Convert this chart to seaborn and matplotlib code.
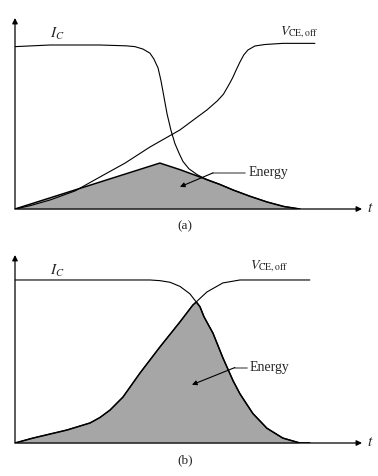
import numpy as np
import pandas as pd
import matplotlib.pyplot as plt
import seaborn as sns

# curves (t in arbitrary time units, level normalised to 1)
ic_a_t = [0, 1.17, 2.83, 3.7, 4.0, 4.27, 4.5, 4.63, 4.77, 4.87, 4.97, 5.07, 5.2, 5.33,
          5.47, 5.6, 5.8, 6.07, 6.4, 6.83, 7.27, 7.83, 8.4, 8.97, 9.5]
ic_a_v = [0.99, 1.0, 1.0, 0.995, 0.99, 0.975, 0.95, 0.915, 0.86, 0.78, 0.68, 0.58, 0.48, 0.40,
          0.34, 0.29, 0.245, 0.21, 0.178, 0.15, 0.116, 0.078, 0.043, 0.015, 0.0]
vce_a_t = [0, 0.5, 1.17, 2.0, 2.83, 3.67, 4.5, 5.5, 6.0, 6.4, 6.75, 6.95, 7.07, 7.17, 7.27,
           7.38, 7.5, 7.63, 7.77, 8.0, 8.33, 8.93, 10.0]
vce_a_v = [0.0, 0.02, 0.055, 0.11, 0.195, 0.28, 0.378, 0.482, 0.55, 0.604, 0.66, 0.70, 0.738,
           0.77, 0.805, 0.85, 0.896, 0.94, 0.97, 0.994, 1.003, 1.01, 1.01]
en_a_t = [0, 4.83, 5.5, 6.17, 6.83, 7.27, 7.83, 8.4, 8.97, 9.5]
en_a_v = [0.0, 0.28, 0.24, 0.195, 0.15, 0.116, 0.078, 0.043, 0.015, 0.0]

ic_b_t = [0, 4.5, 4.83, 5.17, 5.5, 5.83, 6.17, 6.3, 6.6, 6.93, 7.27, 7.5, 7.93, 8.4, 8.93, 9.5, 9.83]
ic_b_v = [0.994, 0.994, 0.99, 0.98, 0.955, 0.91, 0.83, 0.77, 0.67, 0.52, 0.38, 0.30, 0.18, 0.09,
          0.03, 0.0, 0.0]
vce_b_t = [0, 0.6, 1.73, 2.5, 2.83, 3.17, 3.6, 4.17, 4.83, 5.5, 5.93, 6.4, 6.93, 7.5, 9.83]
vce_b_v = [0.0, 0.03, 0.079, 0.122, 0.155, 0.201, 0.28, 0.427, 0.585, 0.738, 0.841, 0.921,
           0.976, 0.994, 0.994]
en_b_t = [0, 0.6, 1.73, 2.5, 2.83, 3.17, 3.6, 4.17, 4.83, 5.5, 5.93, 6.05, 6.17, 6.3, 6.6,
          6.93, 7.27, 7.5, 7.93, 8.4, 8.93, 9.5, 9.83]
en_b_v = [0.0, 0.03, 0.079, 0.122, 0.155, 0.201, 0.28, 0.427, 0.585, 0.738, 0.841, 0.86, 0.83,
          0.77, 0.67, 0.52, 0.38, 0.30, 0.18, 0.09, 0.03, 0.0, 0.0]

sns.set_style('white')
plt.rcParams['font.family'] = ['Liberation Serif', 'DejaVu Serif']
plt.rcParams['mathtext.fontset'] = 'stix'

fig = plt.figure(figsize=(3.78, 4.76), dpi=100)
ax_a = fig.add_axes([15 / 378, 1 - 209 / 476, 347 / 378, 191 / 476])
ax_b = fig.add_axes([15 / 378, 1 - 443 / 476, 347 / 378, 188 / 476])

fill_col = '#a6a6a6'


def panel(ax, ic_t, ic_v, vce_t, vce_v, en_t, en_v, ytop):
    ax.fill_between(en_t, en_v, 0, color=fill_col, lw=0)
    sns.lineplot(x=en_t, y=en_v, ax=ax, color='k', lw=1.1, sort=False, estimator=None)
    sns.lineplot(x=ic_t, y=ic_v, ax=ax, color='k', lw=0.8, sort=False, estimator=None)
    sns.lineplot(x=vce_t, y=vce_v, ax=ax, color='k', lw=0.8, sort=False, estimator=None)
    ax.set_xlim(0, 11.57)
    ax.set_ylim(0, ytop)
    for s in ax.spines.values():
        s.set_visible(False)
    ax.set_xticks([])
    ax.set_yticks([])
    ax.set_xlabel('')
    ax.set_ylabel('')
    ap = dict(arrowstyle='-|>', lw=0.9, color='k', mutation_scale=8,
              shrinkA=0, shrinkB=0)
    ax.annotate('', xy=(1, 0), xytext=(0, 0), xycoords='axes fraction', arrowprops=ap)
    ax.annotate('', xy=(0, 1), xytext=(0, 0), xycoords='axes fraction', arrowprops=ap)
    ax.text(11.85, 0, '$t$', fontsize=11, va='center', ha='center', clip_on=False)


panel(ax_a, ic_a_t, ic_a_v, vce_a_t, vce_a_v, en_a_t, en_a_v, 191 / 164)
panel(ax_b, ic_b_t, ic_b_v, vce_b_t, vce_b_v, en_b_t, en_b_v, 188 / 164)

arrow_kw = dict(arrowstyle='-|>', lw=0.8, color='k', mutation_scale=7, shrinkA=0, shrinkB=0)

# labels panel (a)
ax_a.text(1.17, 1.07, '$I_C$', fontsize=11, va='center')
ax_a.text(8.83, 1.08, r'$V_{\mathrm{CE,off}}$', fontsize=10, va='center')
ax_a.text(7.77, 0.22, 'Energy', fontsize=10, va='center')
ax_a.plot([7.67, 6.6], [0.22, 0.22], color='#808080', lw=1.2)
ax_a.annotate('', xy=(5.5, 0.135), xytext=(6.6, 0.22), arrowprops=arrow_kw)
fig.text(185 / 378, 1 - 226 / 476, '(a)', fontsize=9.5, ha='center', va='center')

# labels panel (b)
ax_b.text(1.17, 1.05, '$I_C$', fontsize=11, va='center')
ax_b.text(7.83, 1.08, r'$V_{\mathrm{CE,off}}$', fontsize=10, va='center')
ax_b.text(7.83, 0.46, 'Energy', fontsize=10, va='center')
ax_b.plot([7.73, 7.33], [0.46, 0.46], color='#808080', lw=1.2)
ax_b.annotate('', xy=(5.9, 0.355), xytext=(7.33, 0.46), arrowprops=arrow_kw)
fig.text(185 / 378, 1 - 460 / 476, '(b)', fontsize=9.5, ha='center', va='center')

fig.savefig('out.png', dpi=100)
